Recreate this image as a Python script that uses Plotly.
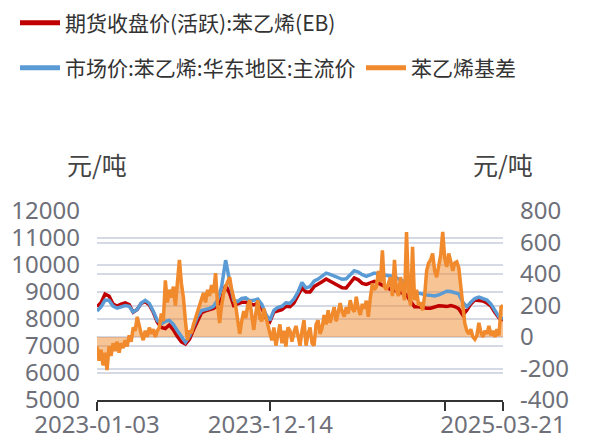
import pandas as pd
import plotly.graph_objects as go

# ---- data ----
price_dates = pd.date_range("2023-01-03", "2025-03-21", freq="8D")   # 102 points
basis_dates = pd.date_range("2023-01-03", "2025-03-21", freq="4D")   # 203 points

futures_eb = [
    8450, 8600, 8920, 8850, 8550, 8480, 8550, 8600, 8530, 8250,
    8350, 8580, 8640, 8520, 8250, 7880, 7690, 7650, 7780, 7600,
    7350, 7150, 7070, 7250, 7600, 7950, 8230, 8300, 8345, 8390,
    8500, 8750, 9250, 8950, 8500, 8550, 8620, 8620, 8570, 8520,
    8590, 8400, 8050, 7900, 8260, 8320, 8350, 8470, 8460, 8600,
    8850, 9150, 9000, 9000, 9200, 9280, 9380, 9480, 9400, 9320,
    9240, 9160, 9150, 9350, 9520, 9450, 9320, 9280, 9350, 9390,
    9330, 9250, 9180, 9100, 9060, 9010, 8980, 8900, 8650, 8450,
    8450, 8420, 8400, 8400, 8450, 8490, 8480, 8460, 8500, 8460,
    8380, 8150, 8330, 8560, 8700, 8700, 8670, 8590, 8480, 8240,
    8040, 7950,
]

spot_east_china = [
    8300, 8450, 8700, 8690, 8480, 8400, 8450, 8500, 8470, 8260,
    8350, 8590, 8690, 8580, 8290, 7940, 7830, 7910, 7950, 7800,
    7560, 7340, 7140, 7360, 7750, 8100, 8310, 8355, 8390, 8470,
    8700, 9200, 10180, 9400, 8700, 8650, 8760, 8780, 8680, 8690,
    8740, 8540, 8180, 7950, 8320, 8430, 8470, 8600, 8580, 8740,
    9000, 9350, 9150, 9200, 9400, 9480, 9600, 9700, 9650, 9600,
    9530, 9470, 9490, 9660, 9790, 9740, 9640, 9580, 9650, 9700,
    9670, 9640, 9615, 9600, 9565, 9480, 9430, 9350, 9180, 9010,
    8960, 8920, 8890, 8875, 8850, 8890, 8960, 9030, 9020, 8980,
    8930, 8620, 8450, 8620, 8760, 8810, 8770, 8700, 8550, 8300,
    8080, 8000,
]

basis = [
    -60, -150, -80, -180, -100, -210, -60, -120, -40, -90,
    -30, -100, -40, -70, -20, -60, 10, -30, 60, 40,
    128, 60, 20, -20, 40, 0, 60, 20, 50, 0,
    40, 60, 150, 100, 360, 220, 300, 250, 320, 200,
    380, 490, 340, 250, 100, -20, 40, 25, 80, 120,
    150, 200, 234, 280, 220, 300, 260, 330, 280, 405,
    205, 88, 200, 280, 320, 350, 380, 300, 250, 200,
    107, 20, 100, 165, 120, 200, 234, 120, 45, 150,
    234, 120, 100, 180, 120, 60, 25, -20, 60, -55,
    20, 80, -40, 40, -60, 60, 40, -30, 30, 70,
    10, -55, 40, 107, -55, 20, 60, -40, -55, 80,
    107, 20, 60, 140, 80, 170, 90, 150, 190, 100,
    150, 215, 160, 130, 190, 150, 234, 180, 160, 255,
    180, 140, 210, 180, 230, 128, 250, 340, 300, 320,
    420, 350, 550, 320, 300, 340, 380, 260, 490, 300,
    260, 380, 320, 234, 667, 300, 200, 572, 234, 300,
    200, 220, 170, 260, 420, 470, 490, 530, 420, 380,
    450, 520, 667, 500, 445, 530, 480, 420, 470, 477,
    440, 330, 234, 86, 40, 20, 50, 0, -15, 10,
    90, 30, 0, 40, 20, 70, 10, 40, 0, 50,
    10, 190, 200,
]

names = ["期货收盘价(活跃):苯乙烯(EB)", "市场价:苯乙烯:华东地区:主流价", "苯乙烯基差"]
colors = ["#C00000", "#5B9BD5", "#F08A2C"]

tick_dates = ["2023-01-03", "2023-12-14", "2024-11-25", "2025-03-21"]
tick_text = ["2023-01-03", "2023-12-14", "", "2025-03-21"]

left_ticks = [5000, 6000, 7000, 8000, 9000, 10000, 11000, 12000]
right_ticks = [-400, -200, 0, 200, 400, 600, 800]

FONT = "Noto Sans CJK SC"
NUMFONT = "Noto Sans"

fig = go.Figure()

# basis area (bottom layer, right axis)
fig.add_trace(go.Scatter(x=basis_dates, y=basis, yaxis="y", mode="lines",
                         line=dict(width=0, color=colors[2]), fill="tozeroy",
                         fillcolor="rgba(240,138,44,0.5)", showlegend=False,
                         hoverinfo="skip"))
# prices (left axis)
fig.add_trace(go.Scatter(x=price_dates, y=futures_eb, yaxis="y2", mode="lines",
                         line=dict(width=3.5, color=colors[0]), showlegend=False))
fig.add_trace(go.Scatter(x=price_dates, y=spot_east_china, yaxis="y2", mode="lines",
                         line=dict(width=3.5, color=colors[1]), showlegend=False))
# basis line on top
fig.add_trace(go.Scatter(x=basis_dates, y=basis, yaxis="y3", mode="lines",
                         line=dict(width=3.5, color=colors[2]), showlegend=False))

# legend entries
for i, lg in enumerate(["legend", "legend2", "legend3"]):
    fig.add_trace(go.Scatter(x=[None], y=[None], mode="lines", name=names[i],
                             line=dict(width=5, color=colors[i]), legend=lg))

grid_color = "#D5D9E6"
tick_font = dict(family=NUMFONT, size=24, color="#6E7079")
legend_font = dict(family=FONT, size=21, color="#333333")


def legend_box(xpx, ypx):
    return dict(orientation="h", xref="container", yref="container",
                x=xpx / 605, y=1 - ypx / 439, xanchor="left", yanchor="middle",
                font=legend_font, bgcolor="rgba(0,0,0,0)", itemwidth=40)


fig.update_layout(
    width=605, height=439,
    margin=dict(l=97, r=102, t=211, b=39, autoexpand=False),
    paper_bgcolor="white", plot_bgcolor="white",
    font=dict(family=FONT),
    xaxis=dict(type="date", range=["2023-01-03", "2025-03-21"],
               tickvals=tick_dates, ticktext=tick_text,
               showgrid=False, showline=True, linecolor="#333333", linewidth=2,
               ticks="outside", ticklen=9, tickwidth=1.5, tickcolor="#333333",
               tickfont=tick_font, zeroline=False, ticklabelstandoff=-7),
    yaxis=dict(range=[-400, 800], tickvals=right_ticks,
               ticktext=[str(v) for v in right_ticks],
               side="right", showgrid=True, gridcolor=grid_color, gridwidth=1.5,
               zeroline=False, showline=False, ticks="", tickfont=tick_font,
               ticklabelstandoff=16),
    yaxis2=dict(range=[5000, 12000], tickvals=left_ticks,
                ticktext=[str(v) for v in left_ticks],
                side="left", overlaying="y", showgrid=True, gridcolor=grid_color,
                gridwidth=1.5, zeroline=False, showline=False, ticks="",
                tickfont=tick_font, ticklabelstandoff=16),
    yaxis3=dict(range=[-400, 800], overlaying="y", visible=False, showgrid=False,
                zeroline=False),
    legend=legend_box(15, 23),
    legend2=legend_box(15, 68),
    legend3=legend_box(361, 68),
    showlegend=True,
    annotations=[
        dict(text="元/吨", xref="paper", yref="paper", x=0, y=1, xanchor="center",
             yanchor="bottom", yshift=27, showarrow=False,
             font=dict(family=FONT, size=25, color="#444444")),
        dict(text="元/吨", xref="paper", yref="paper", x=1, y=1, xanchor="center",
             yanchor="bottom", yshift=27, showarrow=False,
             font=dict(family=FONT, size=25, color="#444444")),
    ],
)

fig.write_html(
    "out.html",
    config={"displayModeBar": False},
    post_script="document.body.style.margin='0';document.body.style.overflow='hidden';",
)
